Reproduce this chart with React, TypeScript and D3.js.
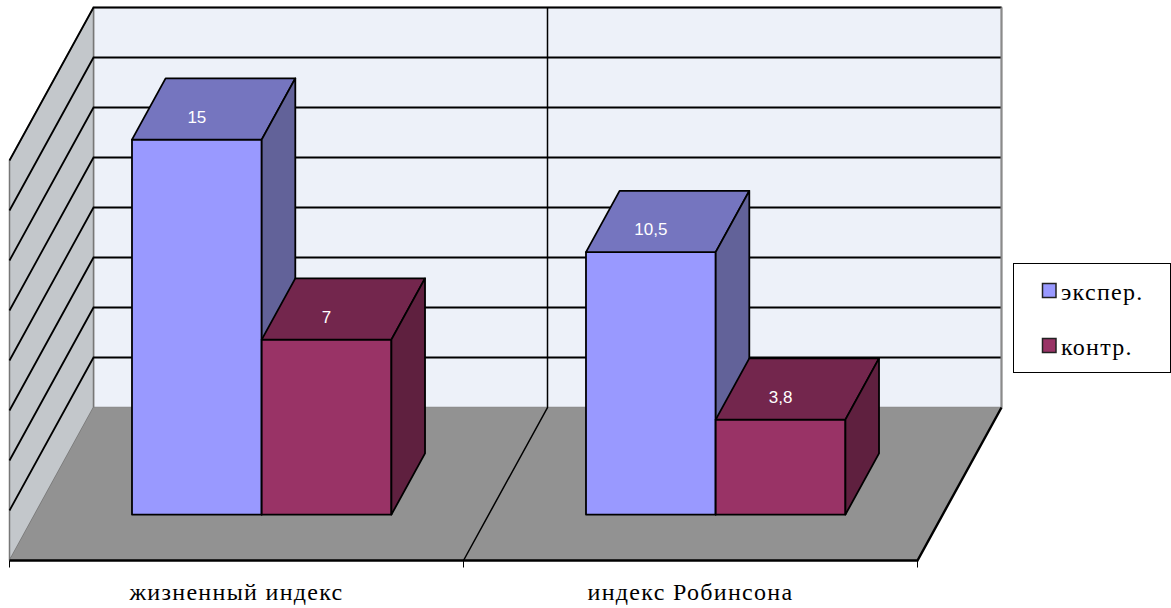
import * as d3 from "d3";

const categories = ["жизненный индекс", "индекс Робинсона"];
const seriesNames = ["экспер.", "контр."];
const experValues = [15, 10.5];
const controlValues = [7, 3.8];
const valueLabels = [["15", "10,5"], ["7", "3,8"]];
const gridValues = [0, 2, 4, 6, 8, 10, 12, 14, 16];

const faceColors = [
  { front: "#9999ff", top: "#7575bf", side: "#626299" },
  { front: "#993366", top: "#73264d", side: "#5f203f" },
];

// Oblique projection: floor front edge, then a shift towards the back wall.
const xBand = d3.scaleBand<string>().domain(categories).range([9.5, 917.5]);
const yValue = d3.scaleLinear().domain([0, 16]).range([560.5, 160.5]);
const depthX = 84;
const depthY = -153;
const project = (x: number, v: number, depth: number): [number, number] => [
  x + depthX * depth,
  yValue(v) + depthY * depth,
];
const poly = (pts: [number, number][]) => d3.line()(pts)! + "Z";

const barWidth = xBand.bandwidth() / 3.5;
const barDepthFront = 0.3;
const barDepthBack = 0.7;

function Bar({ cat, seriesIdx, value, label }: { cat: string; seriesIdx: number; value: number; label: string }) {
  const x0 = xBand(cat)! + barWidth * 0.75 + seriesIdx * barWidth;
  const x1 = x0 + barWidth;
  const c = faceColors[seriesIdx];
  const f0 = project(x0, 0, barDepthFront);
  const f1 = project(x1, 0, barDepthFront);
  const t0 = project(x0, value, barDepthFront);
  const t1 = project(x1, value, barDepthFront);
  const b0 = project(x0, value, barDepthBack);
  const b1 = project(x1, value, barDepthBack);
  const s1 = project(x1, 0, barDepthBack);
  const stroke = { stroke: "#000", strokeWidth: 1.8, strokeLinejoin: "round" as const };
  return (
    <g>
      <path d={poly([f0, f1, t1, t0])} fill={c.front} {...stroke} />
      <path d={poly([t0, t1, b1, b0])} fill={c.top} {...stroke} />
      <path d={poly([f1, s1, b1, t1])} fill={c.side} {...stroke} />
      <text
        x={(t0[0] + t1[0]) / 2}
        y={t0[1] - 17}
        textAnchor="middle"
        fontFamily="Liberation Sans"
        fontSize={17}
        fill="#fff"
      >
        {label}
      </text>
    </g>
  );
}

export default function App() {
  const [x0, x1] = xBand.range();
  const legendRows = [
    { y: 291, color: faceColors[0].front, name: seriesNames[0] },
    { y: 346, color: faceColors[1].front, name: seriesNames[1] },
  ];
  // Bars are painted back to front so nearer faces cover farther ones.
  const order = [0, 1];
  return (
    <svg
      width={1171}
      height={608}
      style={{ position: "absolute", left: 0, top: 0, background: "#fff" }}
    >
      {/* Back wall */}
      <path
        d={poly([project(x0, 0, 1), project(x1, 0, 1), project(x1, 16, 1), project(x0, 16, 1)])}
        fill="#edf1f9"
        stroke="#8a8a8a"
        strokeWidth={1.5}
      />
      {/* Side wall */}
      <path
        d={poly([project(x0, 0, 0), project(x0, 0, 1), project(x0, 16, 1), project(x0, 16, 0)])}
        fill="#c3c7cb"
        stroke="#777"
        strokeWidth={1.5}
      />
      {/* Floor */}
      <path
        d={poly([project(x0, 0, 0), project(x1, 0, 0), project(x1, 0, 1), project(x0, 0, 1)])}
        fill="#929292"
      />
      {/* Gridlines running along the side wall and across the back wall */}
      {gridValues.slice(1).map((v) => (
        <path
          key={v}
          d={d3.line()([project(x0, v, 0), project(x0, v, 1), project(x1, v, 1)])!}
          fill="none"
          stroke="#000"
          strokeWidth={1.8}
        />
      ))}
      {/* Divider between the two categories on the back wall and floor */}
      <path
        d={d3.line()([project(xBand(categories[1])!, 0, 0), project(xBand(categories[1])!, 0, 1), project(xBand(categories[1])!, 16, 1)])!}
        fill="none"
        stroke="#000"
        strokeWidth={1.5}
      />
      <line x1={x1 + depthX} x2={x1 + depthX} y1={yValue(16) + depthY} y2={yValue(0) + depthY} stroke="#8a8a8a" strokeWidth={2} />
      {/* Right and front floor edges */}
      <path
        d={d3.line()([project(x1, 0, 1), project(x1, 0, 0), project(x0, 0, 0)])!}
        fill="none"
        stroke="#000"
        strokeWidth={2.4}
      />
      {/* Category ticks */}
      {[x0, xBand(categories[1])!, x1].map((x) => (
        <line key={x} x1={x} x2={x} y1={yValue(0)} y2={yValue(0) + 7} stroke="#000" strokeWidth={1} />
      ))}
      {categories.map((c, i) =>
        order.map((s) => (
          <Bar
            key={c + s}
            cat={c}
            seriesIdx={s}
            value={(s === 0 ? experValues : controlValues)[i]}
            label={valueLabels[s][i]}
          />
        ))
      )}
      {categories.map((c) => (
        <text
          key={c}
          x={xBand(c)! + xBand.bandwidth() / 2}
          y={600}
          textAnchor="middle"
          fontFamily="Liberation Serif"
          fontSize={24}
          letterSpacing={1.3}
          fill="#000"
        >
          {c}
        </text>
      ))}
      {/* Legend */}
      <rect x={1013.5} y={263.5} width={157} height={109} fill="#fff" stroke="#000" strokeWidth={1} />
      {legendRows.map((r) => (
        <g key={r.name}>
          <rect x={1042.5} y={r.y - 7.5} width={13.5} height={14} fill={r.color} stroke="#222" strokeWidth={1.5} />
          <text x={1061} y={r.y + 9} fontFamily="Liberation Serif" fontSize={24} letterSpacing={1.3} fill="#000">
            {r.name}
          </text>
        </g>
      ))}
    </svg>
  );
}
